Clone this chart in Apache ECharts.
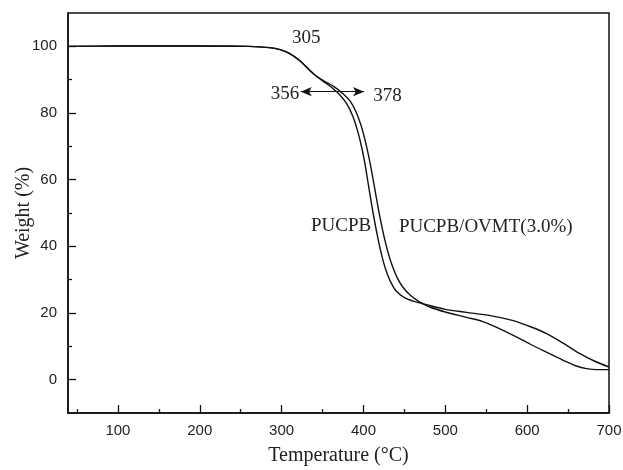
<!DOCTYPE html>
<html>
<head>
<meta charset="utf-8">
<script src="https://cdn.jsdelivr.net/npm/echarts@6/dist/echarts.min.js"></script>
<style>
  html, body { margin: 0; padding: 0; background: #fff; }
  #chart { width: 623px; height: 470px; }
</style>
</head>
<body>
<div id="chart"></div>
<script>
// TGA curves: temperature (°C) vs. residual weight (%)
const pucpb = [
  [39, 100], [100, 100.1], [200, 100.1], [260, 100], [285, 99.6], [298, 99],
  [310, 97.8], [322.6, 95.6], [338.8, 91.8], [351, 89.5], [362, 87.5],
  [372, 85.2], [380, 82.6], [387, 79], [393, 74.5], [398, 69.5], [402, 64.5],
  [406, 58.5], [410, 52.5], [414, 47], [418, 42], [422, 37.6], [427, 33.2],
  [433, 29.4], [440, 26.6], [450, 24.6], [463, 23.4], [477, 22.5],
  [500, 21.1], [525.8, 20.2], [555, 19.2], [583, 17.7], [605, 15.8],
  [623.8, 13.8], [645, 10.8], [664.5, 7.8], [682, 5.6], [700, 3.8]
];
const pucpbOvmt = [
  [39, 100], [100, 100.1], [200, 100.1], [260, 100], [285, 99.6], [298, 99],
  [310, 97.8], [322.6, 95.6], [338.8, 91.8], [351, 89.7], [364, 87.9],
  [375, 85.8], [384, 83.5], [391, 80.3], [397, 76.3], [402, 71.8],
  [406, 67.5], [410, 62.5], [414, 57], [418, 51.5], [422, 46.5], [426, 42],
  [430, 38.2], [435, 34.3], [441, 30.7], [448, 27.8], [457, 25.4],
  [468, 23.4], [481, 21.8], [500, 20.3], [525.8, 18.7], [545, 17.5],
  [562.8, 15.7], [583, 13.3], [603.4, 10.7], [624, 8.2], [644, 5.8],
  [660, 4.1], [672.6, 3.3], [686, 3.0], [700, 3.0]
];

// Axis ticks and labels
const xMajor = [100, 200, 300, 400, 500, 600, 700];
const xMinor = [50, 150, 250, 350, 450, 550, 650];
const yMajor = [0, 20, 40, 60, 80, 100];
const yMinor = [10, 30, 50, 70, 90];

// Onset temperatures marked on the curves, and curve labels
const onsetMain = { text: '305', at: [330, 102.4] };
const onsetLeft = { text: '356', at: [304, 85.7] };
const onsetRight = { text: '378', at: [429.5, 85.0] };
const arrowSpan = [[323.4, 86.4], [400.7, 86.4]];
const curveLabels = [
  { text: 'PUCPB', at: [372.6, 46.2] },
  { text: 'PUCPB/OVMT(3.0%)', at: [549.4, 45.7] }
];

const X_MIN = 39, X_MAX = 700, Y_MIN = -10, Y_MAX = 110;
const serif = '"Liberation Serif", "Times New Roman", serif';
const sans = '"Liberation Sans", Arial, sans-serif';

const chart = echarts.init(document.getElementById('chart'));

const baseX = {
  type: 'value', min: X_MIN, max: X_MAX, splitLine: { show: false },
  position: 'bottom', offset: 0
};
const baseY = {
  type: 'value', min: Y_MIN, max: Y_MAX, splitLine: { show: false },
  position: 'left', offset: 0
};

const curveStyle = { color: '#111', width: 1.4 };

chart.setOption({
  animation: false,
  grid: {
    left: 68, right: 14, top: 13, bottom: 57,
    outerBoundsMode: 'none', containLabel: false,
    show: true, borderColor: '#111', borderWidth: 1.5, backgroundColor: 'transparent'
  },
  xAxis: [
    Object.assign({}, baseX, {
      name: 'Temperature (°C)', nameLocation: 'middle', nameGap: 33,
      nameMoveOverlap: false,
      nameTextStyle: { fontFamily: serif, fontSize: 20, color: '#222' },
      axisLine: { show: true, onZero: false, lineStyle: { color: '#111', width: 1.5 } },
      axisTick: { show: true, inside: true, length: 8, customValues: xMajor,
                  lineStyle: { color: '#111', width: 1.3 } },
      axisLabel: { show: true, customValues: xMajor, margin: 10,
                   fontFamily: sans, fontSize: 15, color: '#222' }
    }),
    Object.assign({}, baseX, {
      axisLine: { show: false, onZero: false },
      axisTick: { show: true, inside: true, length: 4, customValues: xMinor,
                  lineStyle: { color: '#111', width: 1.3 } },
      axisLabel: { show: false }
    })
  ],
  yAxis: [
    Object.assign({}, baseY, {
      name: 'Weight (%)', nameLocation: 'middle', nameGap: 34,
      nameMoveOverlap: false,
      nameTextStyle: { fontFamily: serif, fontSize: 20, color: '#222' },
      axisLine: { show: true, onZero: false, lineStyle: { color: '#111', width: 1.5 } },
      axisTick: { show: true, inside: true, length: 8, customValues: yMajor,
                  lineStyle: { color: '#111', width: 1.3 } },
      axisLabel: { show: true, customValues: yMajor, margin: 11,
                   fontFamily: sans, fontSize: 15, color: '#222' }
    }),
    Object.assign({}, baseY, {
      axisLine: { show: false, onZero: false },
      axisTick: { show: true, inside: true, length: 4, customValues: yMinor,
                  lineStyle: { color: '#111', width: 1.3 } },
      axisLabel: { show: false }
    })
  ],
  series: [
    {
      name: 'PUCPB', type: 'line', data: pucpb, showSymbol: false,
      smooth: 0.3, lineStyle: curveStyle,
      markLine: {
        silent: true, symbol: ['arrow', 'arrow'], symbolSize: [7, 11],
        lineStyle: { color: '#111', width: 1, type: 'solid' },
        label: { show: false },
        data: [[{ coord: arrowSpan[0] }, { coord: arrowSpan[1] }]]
      }
    },
    {
      name: 'PUCPB/OVMT(3.0%)', type: 'line', data: pucpbOvmt, showSymbol: false,
      smooth: 0.3, lineStyle: curveStyle
    }
  ]
});

// Place annotation texts at data positions
const notes = [onsetMain, onsetLeft, onsetRight].concat(curveLabels);
chart.setOption({
  graphic: notes.map(function (n) {
    const p = chart.convertToPixel({ gridIndex: 0 }, n.at);
    return {
      type: 'text', x: p[0], y: p[1],
      style: {
        text: n.text, fill: '#222', font: '19px ' + serif,
        textAlign: 'center', textVerticalAlign: 'middle'
      }
    };
  })
});
</script>
</body>
</html>
